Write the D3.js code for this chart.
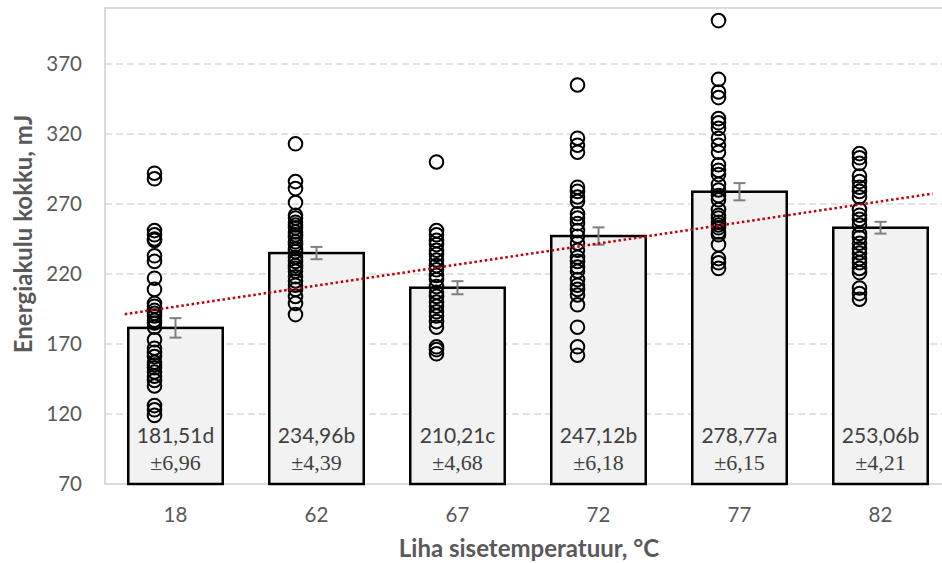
<!DOCTYPE html>
<html>
<head>
<meta charset="utf-8">
<script src="https://cdn.jsdelivr.net/npm/d3@7"></script>
<style>
  body { margin: 0; background: #fff; }
  svg { display: block; }
</style>
</head>
<body>
<svg id="chart" width="942" height="563"></svg>
<script>
// kategooriad (sisetemperatuur)
var categories = ["18", "62", "67", "72", "77", "82"];
// keskmised ja standardvead
var means = [181.51, 234.96, 210.21, 247.12, 278.77, 253.06];
var errors = [6.96, 4.39, 4.68, 6.18, 6.15, 4.21];
var letters = ["d", "b", "c", "b", "a", "b"];
var yTicks = [70, 120, 170, 220, 270, 320, 370];

// üksikmõõtmised
var pts18 = [292, 288, 251, 248, 245, 244, 233, 229, 217, 209, 199, 197, 194, 192, 190, 187, 185, 182,
  173, 167, 164, 161, 157, 155, 153, 150, 147, 144, 140, 126, 123, 119];
var pts62 = [313, 286, 281, 271, 262, 260, 257, 255, 253, 250, 248, 246, 243, 241, 238, 236, 232, 229,
  226, 224, 222, 218, 215, 212, 209, 204, 199, 191];
var pts67 = [300, 251, 248, 244, 241, 237, 234, 230, 226, 223, 219, 216, 211, 207, 204, 200, 197, 193,
  190, 186, 182, 168, 166, 163];
var pts72 = [355, 317, 312, 307, 282, 279, 275, 272, 263, 260, 256, 251, 247, 242, 237, 232, 229, 225,
  222, 216, 212, 209, 205, 198, 182, 168, 162];
var pts77 = [401, 359, 350, 346, 331, 328, 324, 317, 312, 307, 298, 294, 291, 284, 280, 276, 273,
  266, 262, 260, 257, 255, 253, 250, 248, 241, 231, 228, 224];
var pts82 = [306, 303, 299, 290, 286, 282, 279, 275, 266, 262, 259, 255, 249, 246, 242, 238, 235, 231,
  228, 224, 221, 210, 206, 202];
var points = [pts18, pts62, pts67, pts72, pts77, pts82];

// trendijoone ulatus (kategooria indeksi ühikutes)
var trendFrom = 0.64, trendTo = 6.37;

//////////////////////////////////////////////////
var svg = d3.select("#chart");
// NB: "top" on window.top, seepärast teised nimed
var pL = 105, pR = 951, pT = 8, pB = 484;

var x = d3.scaleBand().domain(categories).range([pL, pR]).paddingInner(0).paddingOuter(0);
var y = d3.scaleLinear().domain([70, 410]).range([pB, pT]);
var step = x.step();
var barW = step * 0.67;
var cx = function(c){ return x(c) + step / 2; };
// indeks -> piksel
var xi = d3.scaleLinear().domain([0.5, categories.length + 0.5]).range([pL, pR]);

// ruudustik
svg.append("g").selectAll("line").data(yTicks.slice(1)).join("line")
  .attr("x1", pL).attr("x2", pR)
  .attr("y1", function(d){ return y(d); }).attr("y2", function(d){ return y(d); })
  .attr("stroke", "#d9d9d9").attr("stroke-width", 1.5).attr("stroke-dasharray", "7 4");

// raam
svg.append("rect").attr("x", pL).attr("y", pT).attr("width", pR - pL).attr("height", pB - pT)
  .attr("fill", "none").attr("stroke", "#cfcfcf").attr("stroke-width", 1.5);

// tulbad
svg.append("g").selectAll("rect").data(categories).join("rect")
  .attr("x", function(d){ return cx(d) - barW / 2; })
  .attr("y", function(d, i){ return y(means[i]); })
  .attr("width", barW)
  .attr("height", function(d, i){ return pB - y(means[i]); })
  .attr("fill", "#f2f2f2").attr("stroke", "#000").attr("stroke-width", 2.5);

// tulpade sildid
var lab = svg.append("g");
lab.selectAll("text.m").data(categories).join("text").attr("class", "m")
  .attr("x", function(d){ return cx(d); }).attr("y", 443)
  .attr("text-anchor", "middle").attr("font-family", "Lato, 'Open Sans', sans-serif")
  .attr("font-size", 21).attr("fill", "#404040")
  .text(function(d, i){ return d3.format(".2f")(means[i]).replace(".", ",") + letters[i]; });
lab.selectAll("text.e").data(categories).join("text").attr("class", "e")
  .attr("x", function(d){ return cx(d); }).attr("y", 469.5)
  .attr("text-anchor", "middle").attr("font-family", "'Liberation Serif', 'Times New Roman', serif")
  .attr("font-size", 22).attr("fill", "#404040")
  .text(function(d, i){ return "±" + d3.format(".2f")(errors[i]).replace(".", ","); });

// veapiirid
var eb = svg.append("g").attr("stroke", "#7f7f7f").attr("stroke-width", 2);
categories.forEach(function(c, i){
  var xc = cx(c), y1 = y(means[i] + errors[i]), y2 = y(means[i] - errors[i]);
  eb.append("line").attr("x1", xc).attr("x2", xc).attr("y1", y1).attr("y2", y2);
  eb.append("line").attr("x1", xc - 6).attr("x2", xc + 6).attr("y1", y1).attr("y2", y1);
  eb.append("line").attr("x1", xc - 6).attr("x2", xc + 6).attr("y1", y2).attr("y2", y2);
});

// punktid
var pg = svg.append("g");
categories.forEach(function(c, i){
  pg.selectAll(null).data(points[i]).join("circle")
    .attr("cx", cx(c) - 21).attr("cy", function(d){ return y(d); }).attr("r", 6.8)
    .attr("fill", "none").attr("stroke", "#000").attr("stroke-width", 2);
});

// lineaarne trend keskmistest
var idx = means.map(function(d, i){ return i + 1; });
var mx = d3.mean(idx), my = d3.mean(means);
var slope = d3.sum(idx, function(v, i){ return (v - mx) * (means[i] - my); }) /
  d3.sum(idx, function(v){ return (v - mx) * (v - mx); });
var icpt = my - slope * mx;
svg.append("line")
  .attr("x1", xi(trendFrom)).attr("y1", y(icpt + slope * trendFrom))
  .attr("x2", xi(trendTo)).attr("y2", y(icpt + slope * trendTo))
  .attr("stroke", "#c00000").attr("stroke-width", 2.5)
  .attr("stroke-dasharray", "2.5 2.7");

// y-telje sildid
svg.append("g").selectAll("text").data(yTicks).join("text")
  .attr("x", 82).attr("y", function(d){ return y(d); }).attr("dy", "0.36em")
  .attr("text-anchor", "end").attr("font-family", "Lato, 'Open Sans', sans-serif")
  .attr("font-size", 20.5).attr("fill", "#595959").text(function(d){ return d; });

// x-telje sildid
svg.append("g").selectAll("text").data(categories).join("text")
  .attr("x", function(d){ return cx(d); }).attr("y", 522)
  .attr("text-anchor", "middle").attr("font-family", "Lato, 'Open Sans', sans-serif")
  .attr("font-size", 20.5).attr("fill", "#595959").text(function(d){ return d; });

// pealkirjad
svg.append("text").attr("x", 529).attr("y", 557).attr("text-anchor", "middle")
  .attr("font-family", "Lato, 'Open Sans', sans-serif").attr("font-weight", "bold")
  .attr("font-size", 24).attr("fill", "#595959").text("Liha sisetemperatuur, °C");
svg.append("text").attr("transform", "translate(32," + 234 + ") rotate(-90)").attr("text-anchor", "middle")
  .attr("font-family", "Lato, 'Open Sans', sans-serif").attr("font-weight", "bold")
  .attr("font-size", 24).attr("fill", "#595959").text("Energiakulu kokku, mJ");
</script>
</body>
</html>
